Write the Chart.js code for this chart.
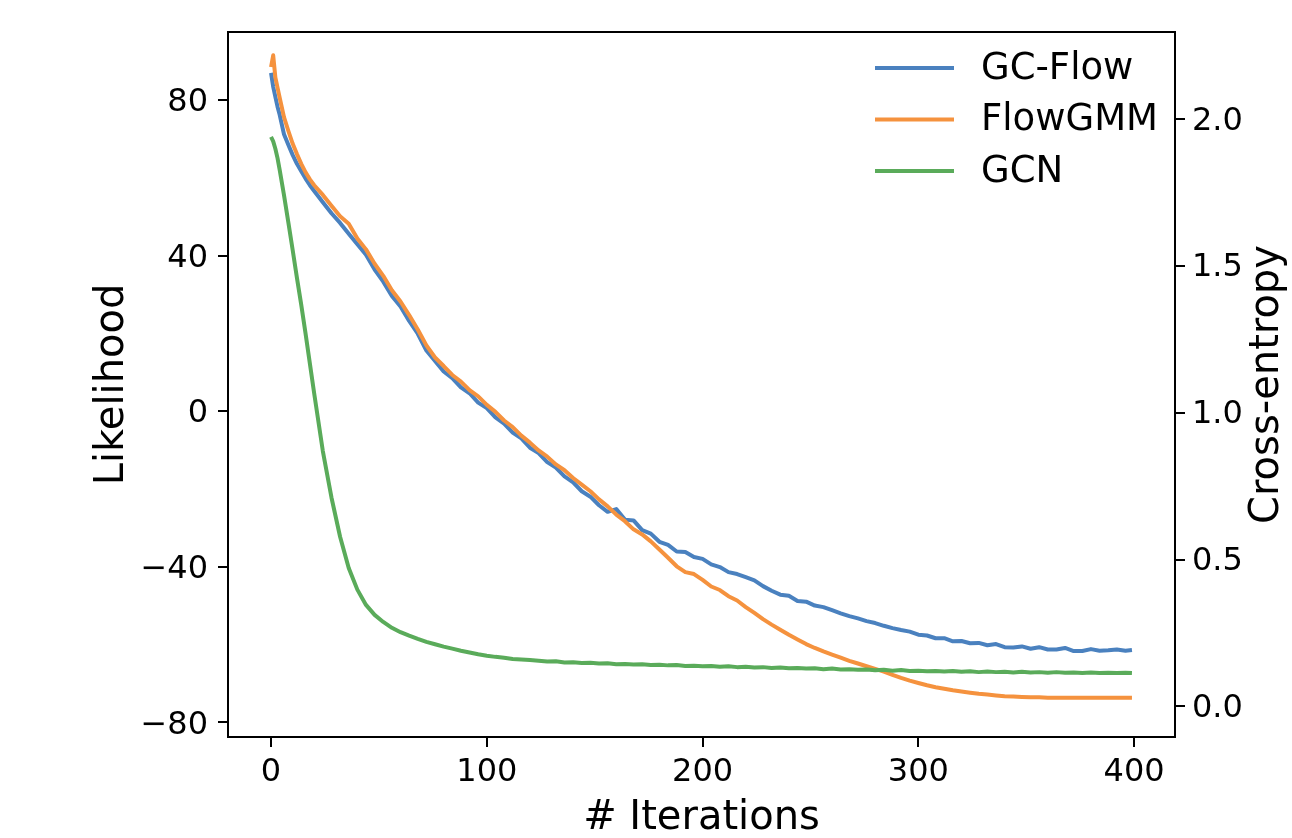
<!DOCTYPE html>
<html>
<head>
<meta charset="utf-8">
<script src="https://cdn.jsdelivr.net/npm/chart.js@4.4.1/dist/chart.umd.min.js"></script>
<style>
html,body{margin:0;padding:0;background:#ffffff;}
canvas{display:block;}
</style>
</head>
<body>
<canvas id="c" width="1292" height="838"></canvas>
<script>
// ---- data ----
const iterations = [0,1,2,3,4,6,8,10,12,14,16,18,20,
  24,28,32,36,40,44,48,52,56,60,
  64,68,72,76,80,84,88,92,96,100,
  104,108,112,116,120,124,128,132,136,140,
  144,148,152,156,160,164,168,172,176,180,
  184,188,192,196,200,204,208,212,216,220,
  224,228,232,236,240,244,248,252,256,260,
  264,268,272,276,280,284,288,292,296,300,
  304,308,312,316,320,324,328,332,336,340,
  344,348,352,356,360,364,368,372,376,380,
  384,388,392,396,399];

// Likelihood (left axis)
const gcFlow = [87.0,83.4,80.8,78.3,76.2,71.2,68.5,65.9,63.6,61.7,59.8,58.1,56.6,
  53.7,50.9,48.4,45.6,42.9,40.2,36.4,33.3,29.6,26.9,
  23.2,19.9,15.6,12.9,10.2,8.5,6.1,4.6,2.2,0.8,
  -1.6,-3.2,-5.5,-7.0,-9.4,-10.8,-13.1,-14.5,-16.8,-18.3,
  -20.6,-22.0,-24.2,-25.9,-25.2,-27.9,-28.1,-30.6,-31.5,-33.6,
  -34.4,-36.1,-36.2,-37.5,-38.0,-39.4,-40.1,-41.4,-41.9,-42.7,
  -43.5,-45.0,-46.2,-47.2,-47.5,-48.8,-49.0,-50.0,-50.4,-51.2,
  -52.0,-52.7,-53.3,-54.0,-54.5,-55.2,-55.8,-56.3,-56.7,-57.5,
  -57.7,-58.4,-58.4,-59.2,-59.1,-59.7,-59.6,-60.2,-59.9,-60.7,
  -60.8,-60.5,-61.1,-60.7,-61.3,-61.3,-60.9,-61.7,-61.7,-61.2,
  -61.6,-61.5,-61.3,-61.6,-61.4];

const flowGMM = [88.5,91.5,85.8,83.2,80.6,75.6,72.1,68.8,66.1,63.6,61.4,59.6,58.1,
  55.6,52.8,50.1,48.2,44.4,41.6,37.9,34.8,31.1,28.2,
  24.7,21.0,16.9,13.8,11.6,9.3,7.6,5.4,3.8,1.6,
  -0.2,-2.4,-4.1,-6.3,-8.1,-10.1,-11.7,-13.7,-15.2,-17.2,
  -18.9,-20.6,-22.7,-24.5,-26.6,-28.3,-30.4,-31.7,-33.5,-35.6,
  -37.7,-39.9,-41.4,-41.9,-43.4,-45.1,-46.0,-47.6,-48.7,-50.4,
  -51.9,-53.5,-54.9,-56.2,-57.5,-58.7,-59.9,-60.9,-61.8,-62.6,
  -63.4,-64.2,-64.9,-65.6,-66.3,-67.0,-67.8,-68.6,-69.3,-69.9,
  -70.5,-71.0,-71.4,-71.8,-72.1,-72.4,-72.7,-72.9,-73.1,-73.3,
  -73.4,-73.5,-73.6,-73.6,-73.7,-73.7,-73.7,-73.7,-73.7,-73.7,
  -73.7,-73.7,-73.7,-73.7,-73.7];

// Cross-entropy (right axis)
const gcn = [1.940,1.925,1.900,1.868,1.828,1.742,1.650,1.556,1.460,1.368,1.270,1.168,1.066,
  0.870,0.712,0.578,0.472,0.398,0.346,0.312,0.288,0.268,0.253,
  0.241,0.230,0.220,0.212,0.204,0.197,0.190,0.184,0.178,0.173,
  0.169,0.166,0.162,0.160,0.158,0.156,0.153,0.154,0.150,0.151,
  0.148,0.149,0.146,0.147,0.144,0.145,0.143,0.144,0.141,0.142,
  0.140,0.141,0.138,0.139,0.137,0.138,0.135,0.137,0.134,0.135,
  0.133,0.134,0.131,0.133,0.130,0.131,0.129,0.130,0.127,0.129,
  0.126,0.127,0.125,0.126,0.123,0.125,0.122,0.124,0.121,0.122,
  0.120,0.121,0.119,0.121,0.118,0.120,0.117,0.119,0.117,0.118,
  0.116,0.118,0.116,0.117,0.115,0.117,0.115,0.116,0.114,0.116,
  0.114,0.115,0.114,0.115,0.114];

const seriesLabels = ['GC-Flow', 'FlowGMM', 'GCN'];
const xTicks = [0, 100, 200, 300, 400];
const likelihoodTicks = [-80, -40, 0, 40, 80];
const crossEntropyTicks = [0, 0.5, 1.0, 1.5, 2.0];
const axisTitles = { x: '# Iterations', left: 'Likelihood', right: 'Cross-entropy' };

// ---- styling ----
const FONT = 'DejaVu Sans';
const COLORS = ['#4a81bf', '#f5923e', '#5aab5a'];

function toPoints(ys) { return iterations.map((x, i) => ({ x: x, y: ys[i] })); }
const fmtMinus = v => (v < 0 ? '\u2212' + Math.abs(v) : String(v));

const axisBorder = { display: true, color: '#000', width: 2 };
const tickGrid = { display: true, drawOnChartArea: false, drawTicks: true, tickLength: 10,
  tickWidth: 2, lineWidth: 2, tickColor: '#000', color: '#000' };

const framePlugin = {
  id: 'topSpine',
  afterDraw(chart) {
    const a = chart.chartArea, ctx = chart.ctx;
    ctx.save();
    ctx.strokeStyle = '#000';
    ctx.lineWidth = 2;
    ctx.beginPath();
    ctx.moveTo(a.left - 1, a.top);
    ctx.lineTo(a.right + 1, a.top);
    ctx.stroke();
    ctx.restore();
  }
};

// right-axis title, read bottom-to-top like matplotlib's twin y label
const rightTitlePlugin = {
  id: 'rightTitle',
  afterDraw(chart, args, opts) {
    const a = chart.chartArea, ctx = chart.ctx;
    ctx.save();
    ctx.translate(opts.x, (a.top + a.bottom) / 2);
    ctx.rotate(-Math.PI / 2);
    ctx.fillStyle = '#000';
    ctx.font = opts.size + 'px "' + FONT + '"';
    ctx.textAlign = 'center';
    ctx.textBaseline = 'middle';
    ctx.fillText(opts.text, 0, 0);
    ctx.restore();
  }
};

const legendPlugin = {
  id: 'innerLegend',
  afterDraw(chart, args, opts) {
    const ctx = chart.ctx;
    ctx.save();
    chart.data.datasets.forEach((ds, i) => {
      const y = opts.y0 + i * opts.dy;
      ctx.strokeStyle = ds.borderColor;
      ctx.lineWidth = 4;
      ctx.beginPath();
      ctx.moveTo(opts.x0, y);
      ctx.lineTo(opts.x1, y);
      ctx.stroke();
      ctx.fillStyle = '#000';
      ctx.font = opts.size + 'px "' + FONT + '"';
      ctx.textBaseline = 'middle';
      ctx.textAlign = 'left';
      ctx.fillText(ds.label, opts.tx, y + 1);
    });
    ctx.restore();
  }
};

new Chart(document.getElementById('c'), {
  type: 'line',
  data: {
    datasets: [
      { label: seriesLabels[0], data: toPoints(gcFlow), yAxisID: 'yL', borderColor: COLORS[0],
        borderWidth: 4, pointRadius: 0, borderJoinStyle: 'round', order: 2 },
      { label: seriesLabels[1], data: toPoints(flowGMM), yAxisID: 'yL', borderColor: COLORS[1],
        borderWidth: 4, pointRadius: 0, borderJoinStyle: 'round', order: 1 },
      { label: seriesLabels[2], data: toPoints(gcn), yAxisID: 'yR', borderColor: COLORS[2],
        borderWidth: 4, pointRadius: 0, borderJoinStyle: 'round', order: 0 }
    ]
  },
  options: {
    responsive: false,
    animation: false,
    devicePixelRatio: 1,
    layout: { padding: { top: 32, left: 0, right: 0, bottom: 0 } },
    plugins: {
      legend: { display: false },
      tooltip: { enabled: false },
      innerLegend: { x0: 875, x1: 954, tx: 981, y0: 68, dy: 51.5, size: 37 },
      rightTitle: { text: axisTitles.right, x: 1268, size: 40 }
    },
    scales: {
      x: {
        type: 'linear', position: 'bottom', min: -19.95, max: 418.95,
        border: axisBorder, grid: tickGrid,
        afterBuildTicks: s => { s.ticks = xTicks.map(v => ({ value: v })); },
        afterFit: s => { s.height = 101; },
        ticks: { color: '#000', font: { family: FONT, size: 32 }, padding: 6,
          maxRotation: 0, autoSkip: false, callback: v => fmtMinus(v) },
        title: { display: true, text: axisTitles.x, color: '#000',
          font: { family: FONT, size: 40 }, padding: { top: 0, bottom: -5 } }
      },
      yL: {
        type: 'linear', position: 'left', min: -83.8, max: 97.5,
        border: axisBorder, grid: tickGrid,
        afterBuildTicks: s => { s.ticks = likelihoodTicks.map(v => ({ value: v })); },
        afterFit: s => { s.width = 228; },
        ticks: { color: '#000', font: { family: FONT, size: 32 }, padding: 10, labelOffset: 3,
          autoSkip: false, callback: v => fmtMinus(v) },
        title: { display: true, text: axisTitles.left, color: '#000',
          font: { family: FONT, size: 40 }, padding: { top: 89, bottom: 0 } }
      },
      yR: {
        type: 'linear', position: 'right', min: -0.104, max: 2.2976,
        border: axisBorder, grid: tickGrid,
        afterBuildTicks: s => { s.ticks = crossEntropyTicks.map(v => ({ value: v })); },
        afterFit: s => { s.width = 117; },
        ticks: { color: '#000', font: { family: FONT, size: 32 }, padding: 7, labelOffset: 2,
          autoSkip: false, callback: v => Number(v).toFixed(1) },
        title: { display: false }
      }
    }
  },
  plugins: [framePlugin, rightTitlePlugin, legendPlugin]
});
</script>
</body>
</html>
